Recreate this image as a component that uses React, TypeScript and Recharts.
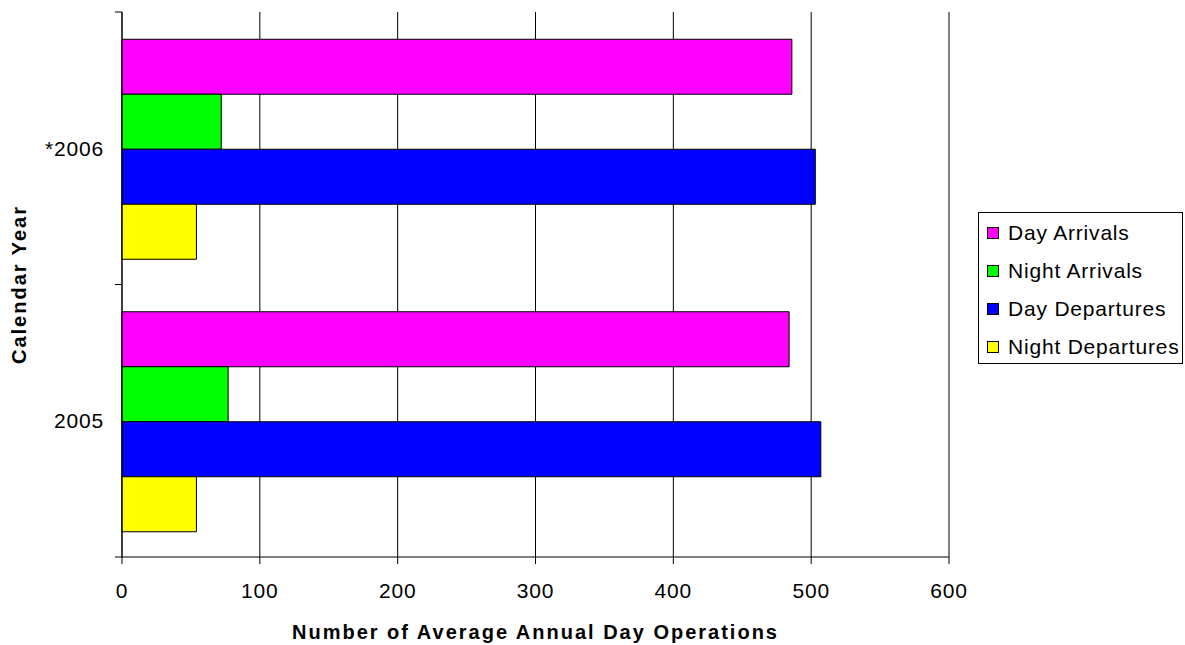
import React from 'react';
import { BarChart, Bar, XAxis, YAxis, CartesianGrid, Legend } from 'recharts';

const years = ['*2006', '2005'];
const dayArrivals = [486, 484];
const nightArrivals = [72, 77];
const dayDepartures = [503, 507];
const nightDepartures = [54, 54];
const xTicks = [0, 100, 200, 300, 400, 500, 600];

const seriesNames = ['Day Arrivals', 'Night Arrivals', 'Day Departures', 'Night Departures'];
const seriesKeys = ['dayArr', 'nightArr', 'dayDep', 'nightDep'];
const seriesColors = ['#FF00FF', '#00FF00', '#0000FF', '#FFFF00'];

const data = years.map((y, i) => ({
  year: y,
  dayArr: dayArrivals[i],
  nightArr: nightArrivals[i],
  dayDep: dayDepartures[i],
  nightDep: nightDepartures[i],
}));

const FONT = '"Liberation Sans", Arial, sans-serif';

const LegendContent = (props: any) => {
  const payload = [...(props.payload || [])].sort(
    (a: any, b: any) => seriesNames.indexOf(a.value) - seriesNames.indexOf(b.value)
  );
  return (
    <div style={{ paddingTop: 1, fontFamily: FONT }}>
      {payload.map((p: any) => (
        <div key={p.value} style={{ display: 'flex', alignItems: 'center', height: 38 }}>
          <span
            style={{
              display: 'inline-block',
              width: 12,
              height: 12,
              boxSizing: 'border-box',
              border: '1px solid #000',
              background: p.color,
              marginLeft: 8,
              marginRight: 9,
            }}
          />
          <span style={{ fontSize: 21, letterSpacing: 0.8, color: '#000', whiteSpace: 'nowrap' }}>{p.value}</span>
        </div>
      ))}
    </div>
  );
};

// Category tick: label at band centre, tick marks at the band boundaries (Excel style)
const CategoryTick = (props: any) => {
  const { x, y, payload, index, visibleTicksCount } = props;
  const half = payload && typeof payload.offset === 'number' ? payload.offset : 0;
  const axisX = x + 18;
  const isLast = index === (visibleTicksCount ?? years.length) - 1;
  return (
    <g>
      <line x1={axisX - 7} x2={axisX} y1={y - half} y2={y - half} stroke="#000" />
      {isLast && <line x1={axisX - 7} x2={axisX} y1={y + half} y2={y + half} stroke="#000" />}
      <text
        x={x}
        y={y}
        dy="0.355em"
        textAnchor="end"
        fill="#000"
        fontSize={21}
        fontFamily={FONT}
        letterSpacing={0.8}
      >
        {payload.value}
      </text>
    </g>
  );
};

export default function App() {
  return (
    <div style={{ position: 'absolute', left: 0, top: 0, width: 1185, height: 645, background: '#fff' }}>
      <BarChart
        width={1185}
        height={645}
        data={data}
        layout="vertical"
        margin={{ top: 12, right: 31, left: 0, bottom: 0 }}
        barCategoryGap="10%"
        barGap={0}
      >
        <CartesianGrid horizontal={false} stroke="#000" />
        <YAxis
          type="category"
          dataKey="year"
          width={122}
          tickSize={0}
          tickMargin={18}
          tickLine={false}
          axisLine={{ stroke: '#000' }}
          tick={<CategoryTick />}
          label={{
            value: 'Calendar Year',
            angle: -90,
            position: 'insideLeft',
            offset: 19,
            style: { textAnchor: 'middle' },
            fill: '#000',
            fontSize: 20,
            fontWeight: 'bold',
            fontFamily: FONT,
            letterSpacing: 2,
          }}
        />
        <XAxis
          type="number"
          domain={[0, 600]}
          ticks={xTicks}
          height={88}
          tickSize={7}
          tickMargin={19}
          axisLine={{ stroke: '#000' }}
          tickLine={{ stroke: '#000' }}
          tick={{ fill: '#000', fontSize: 21, fontFamily: FONT, letterSpacing: 0.8 }}
          label={{
            value: 'Number of Average Annual Day Operations',
            position: 'insideBottom',
            offset: 6,
            fill: '#000',
            fontSize: 20,
            fontWeight: 'bold',
            fontFamily: FONT,
            letterSpacing: 2,
          }}
        />
        <Legend
          layout="vertical"
          align="right"
          verticalAlign="middle"
          content={<LegendContent />}
          wrapperStyle={{
            left: 978,
            top: 212,
            width: 205,
            height: 152,
            border: '1px solid #000',
            boxSizing: 'border-box',
            background: '#fff',
          }}
        />
        {seriesKeys.map((k, i) => (
          <Bar
            key={k}
            dataKey={k}
            name={seriesNames[i]}
            fill={seriesColors[i]}
            stroke="#000"
            strokeWidth={1}
            isAnimationActive={false}
          />
        ))}
      </BarChart>
    </div>
  );
}
